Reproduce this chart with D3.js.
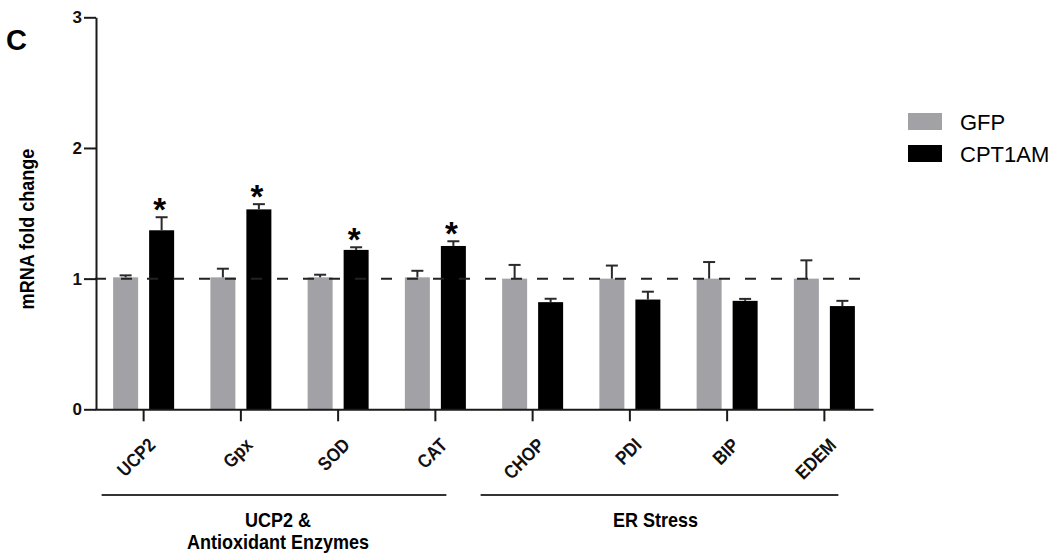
<!DOCTYPE html>
<html>
<head>
<meta charset="utf-8">
<script src="https://cdn.jsdelivr.net/npm/d3@7"></script>
<style>
  body { margin: 0; background: #fff; }
  svg { display: block; font-family: "Liberation Sans", Arial, sans-serif; }
</style>
</head>
<body>
<script>
'use strict';

// chart data
const categories = ["UCP2", "Gpx", "SOD", "CAT", "CHOP", "PDI", "BIP", "EDEM"];
const seriesNames = ["GFP", "CPT1AM"];
const gfpMean = [1.01, 1.01, 1.01, 1.01, 1.0, 1.0, 1.0, 1.0];
const gfpErr = [0.015, 0.066, 0.02, 0.05, 0.105, 0.10, 0.127, 0.14];
const cptMean = [1.37, 1.53, 1.22, 1.25, 0.82, 0.84, 0.83, 0.79];
const cptErr = [0.10, 0.04, 0.02, 0.036, 0.026, 0.06, 0.015, 0.04];
const significant = [true, true, true, true, false, false, false, false];
const yTicks = [0, 1, 2, 3];
const groupLabels = [["UCP2 &", "Antioxidant Enzymes"], ["ER Stress"]];
const groupFirst = ["UCP2", "CHOP"];
const groupLast = ["CAT", "EDEM"];
const refLine = 1;

const colors = { GFP: "#a2a1a6", CPT1AM: "#000000" };
const font = "'Liberation Sans', Arial, sans-serif";

let svg = d3.select("body").append("svg")
  .attr("width", 1054)
  .attr("height", 555);

// scales
let x = d3.scaleBand().domain(categories).range([95, 873]);
let xSub = d3.scaleBand().domain(seriesNames).range([-30.5, 30.5]).paddingInner(11 / 36);
let y = d3.scaleLinear().domain([0, 3]).range([409.3, 17.3]);

// rows per bar
let rows = [];
categories.forEach(function(c, i) {
  rows.push({ cat: c, series: "GFP", mean: gfpMean[i], err: gfpErr[i], sig: false });
  rows.push({ cat: c, series: "CPT1AM", mean: cptMean[i], err: cptErr[i], sig: significant[i] });
});
let cx = function(d) { return x(d.cat) + x.bandwidth() / 2 + xSub(d.series) + xSub.bandwidth() / 2; };

// bars
svg.selectAll(".bar")
  .data(rows)
  .enter()
  .append("rect")
    .attr("class", "bar")
    .attr("x", function(d) { return cx(d) - xSub.bandwidth() / 2; })
    .attr("y", function(d) { return y(d.mean); })
    .attr("width", xSub.bandwidth())
    .attr("height", function(d) { return y(0) - y(d.mean); })
    .attr("fill", function(d) { return colors[d.series]; });

// dashed reference line at 1
svg.append("line")
  .attr("x1", x.range()[0])
  .attr("x2", x.range()[1] - 8)
  .attr("y1", y(refLine))
  .attr("y2", y(refLine))
  .attr("stroke", "#222")
  .attr("stroke-width", 2)
  .attr("stroke-dasharray", "11,15");

// error bars (upper only)
let err = svg.selectAll(".err")
  .data(rows)
  .enter()
  .append("g")
    .attr("class", "err")
    .attr("stroke", "#2a2a2a")
    .attr("stroke-width", 2);
err.append("line")
  .attr("x1", cx).attr("x2", cx)
  .attr("y1", function(d) { return y(d.mean); })
  .attr("y2", function(d) { return y(d.mean + d.err); });
err.append("line")
  .attr("x1", function(d) { return cx(d) - 6; })
  .attr("x2", function(d) { return cx(d) + 6; })
  .attr("y1", function(d) { return y(d.mean + d.err); })
  .attr("y2", function(d) { return y(d.mean + d.err); });

// significance stars
svg.selectAll(".star")
  .data(rows.filter(function(d) { return d.sig; }))
  .enter()
  .append("text")
    .attr("class", "star")
    .attr("x", function(d) { return cx(d) - 2; })
    .attr("y", function(d) { return y(d.mean + d.err) + 4; })
    .attr("text-anchor", "middle")
    .style("font-family", font)
    .style("font-size", "33px")
    .style("font-weight", "bold")
    .text("*");

// y axis
let yAxis = svg.append("g")
  .attr("transform", "translate(96, 0)")
  .call(d3.axisLeft(y).tickValues(yTicks).tickFormat(d3.format("d")).tickSize(12).tickSizeOuter(0).tickPadding(2));

// x axis
let xAxis = svg.append("g")
  .attr("transform", "translate(0, 409.3)")
  .call(d3.axisBottom(x).tickSize(12).tickSizeOuter(0));

[yAxis, xAxis].forEach(function(a) {
  a.select(".domain").attr("stroke", "#1a1a1a").attr("stroke-width", 2);
  a.selectAll(".tick line").attr("stroke", "#1a1a1a").attr("stroke-width", 2);
});

yAxis.selectAll(".tick text")
  .attr("fill", "#111")
  .style("font-family", font)
  .style("font-size", "17px")
  .style("font-weight", "bold");

xAxis.selectAll(".tick text")
  .attr("fill", "#111")
  .attr("text-anchor", "end")
  .attr("dy", null)
  .attr("y", 0)
  .attr("transform", "translate(13, 37) rotate(-45) scale(0.88, 1)")
  .style("font-family", font)
  .style("font-size", "19px")
  .style("font-weight", "bold");

// group brackets and labels
groupLabels.forEach(function(lines, i) {
  let x1 = x(groupFirst[i]) + x.bandwidth() / 2 - (i == 0 ? 42 : 52);
  let x2 = x(groupLast[i]) + x.bandwidth() / 2 + (i == 0 ? 11 : 14);
  svg.append("line")
    .attr("x1", x1).attr("x2", x2)
    .attr("y1", 495).attr("y2", 495)
    .attr("stroke", "#333")
    .attr("stroke-width", 2);
  let mid = (x1 + x2) / 2 + (i == 0 ? 4 : -4);
  lines.forEach(function(t, j) {
    svg.append("text")
      .attr("transform", "translate(" + mid + "," + (527 + j * 21.5) + ") scale(0.9, 1)")
      .attr("text-anchor", "middle")
      .style("font-family", font)
      .style("font-size", "20px")
      .style("font-weight", "bold")
      .text(t);
  });
});

// panel letter and y label
svg.append("text")
  .attr("x", 6)
  .attr("y", 50)
  .style("font-family", font)
  .style("font-size", "29px")
  .style("font-weight", "bold")
  .text("C");

svg.append("text")
  .attr("transform", "translate(34, 229) rotate(-90) scale(0.86, 1)")
  .attr("text-anchor", "middle")
  .style("font-family", font)
  .style("font-size", "21px")
  .style("font-weight", "bold")
  .text("mRNA fold change");

// legend
let legend = svg.append("g").attr("class", "legend");
seriesNames.forEach(function(s, i) {
  legend.append("rect")
    .attr("x", 908)
    .attr("y", 113 + i * 32)
    .attr("width", 34)
    .attr("height", 17)
    .attr("fill", colors[s]);
  legend.append("text")
    .attr("x", 960)
    .attr("y", 130 + i * 32)
    .style("font-family", font)
    .style("font-size", "22px")
    .text(s);
});
</script>
</body>
</html>
